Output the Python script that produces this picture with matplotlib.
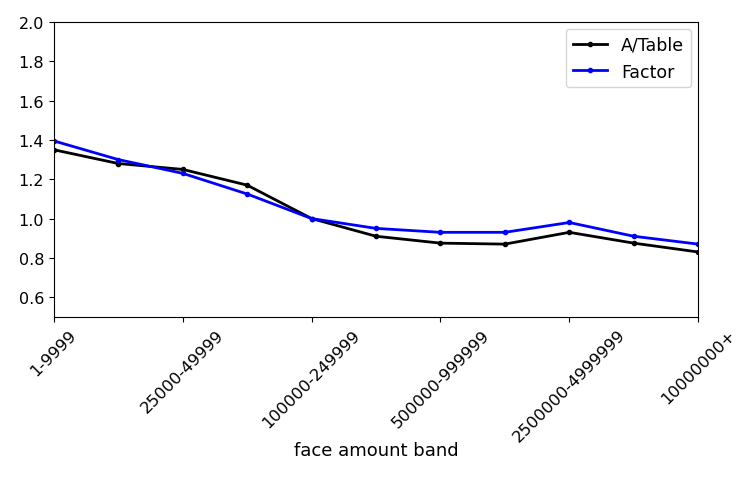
import matplotlib
matplotlib.use("Agg")
import matplotlib.pyplot as plt

# face amount bands and the two ratio series
bands = ["1-9999", "10000-24999", "25000-49999", "50000-99999",
         "100000-249999", "250000-499999", "500000-999999",
         "1000000-2499999", "2500000-4999999", "5000000-9999999",
         "10000000+"]
a_table = [1.35, 1.28, 1.25, 1.17, 1.00, 0.91, 0.875, 0.87, 0.93, 0.875, 0.83]
factor = [1.395, 1.30, 1.23, 1.125, 1.00, 0.95, 0.93, 0.93, 0.98, 0.91, 0.87]

fig = plt.figure(figsize=(7.38, 4.89), dpi=100)
ax = fig.add_axes([0.073, 0.350, 0.873, 0.603])

x = list(range(len(bands)))
ax.plot(x, a_table, color="black", marker=".", markersize=6, linewidth=2, label="A/Table")
ax.plot(x, factor, color="blue", marker=".", markersize=6, linewidth=2, label="Factor")

ax.set_xlim(0, len(bands) - 1)
ax.set_ylim(0.5, 2.0)
ax.set_yticks([0.6, 0.8, 1.0, 1.2, 1.4, 1.6, 1.8, 2.0])
ax.set_xticks(x[::2])
ax.set_xticklabels(bands[::2], rotation=45, ha="center", fontsize=11.8)
ax.tick_params(axis="y", labelsize=11.5)
ax.set_xlabel("face amount band", fontsize=13)
ax.xaxis.set_label_coords(0.5, -0.42)

ax.legend(loc="upper right", fontsize=12.5, borderaxespad=0.4)

fig.savefig("out.png", dpi=100)
